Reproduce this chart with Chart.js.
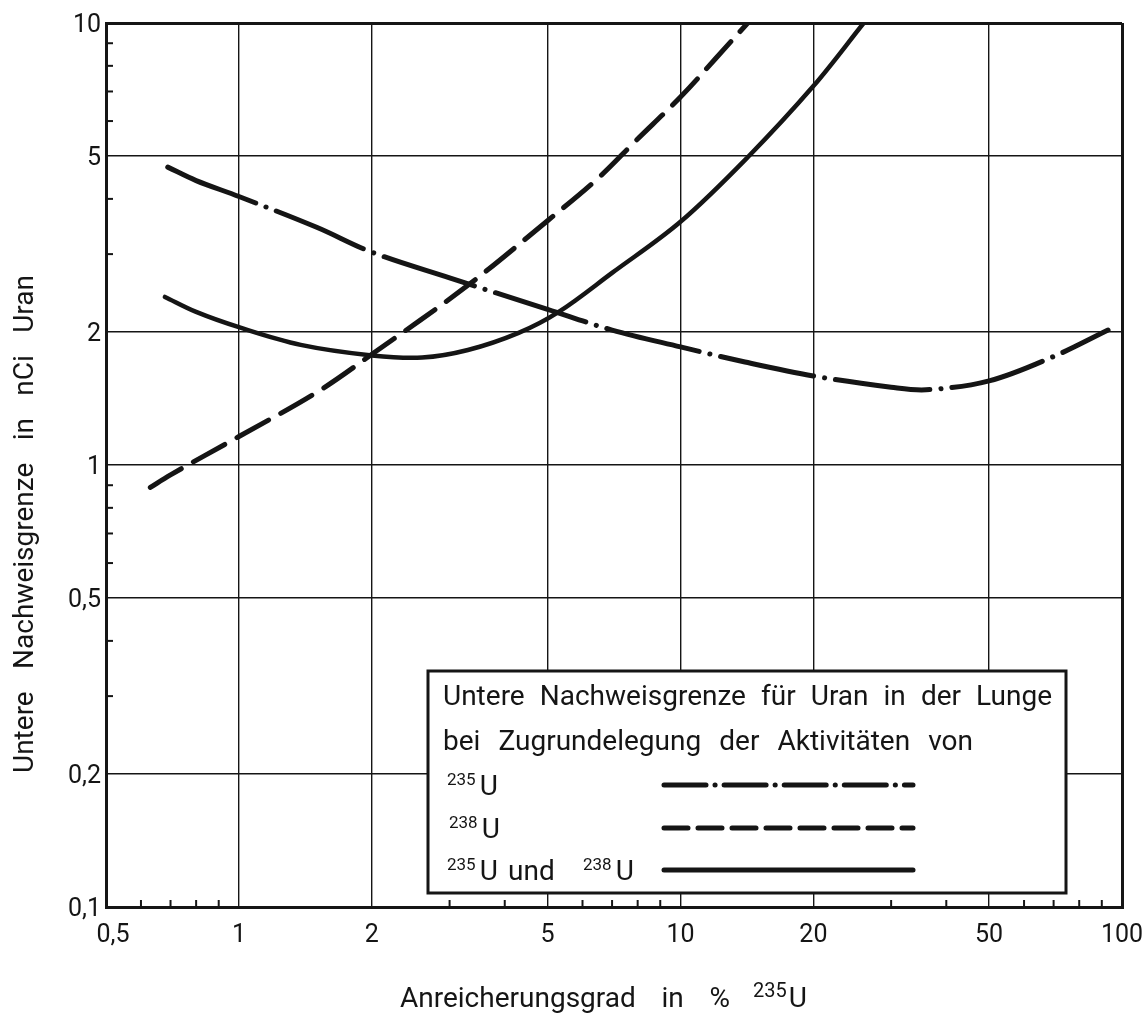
<!DOCTYPE html>
<html>
<head>
<meta charset="utf-8">
<script src="https://cdn.jsdelivr.net/npm/chart.js@4.4.1/dist/chart.umd.min.js"></script>
<style>
  html, body { margin: 0; padding: 0; background: #fff; }
  #wrap { width: 1148px; height: 1015px; position: relative; }
</style>
</head>
<body>
<div id="wrap"><canvas id="c" width="1148" height="1015"></canvas></div>
<script>
// ---- data ----
const u235X = [0.69, 0.8, 1, 1.5, 2, 3, 5, 7, 10, 14, 20, 30, 36, 50, 70, 93];
const u235Y = [4.72, 4.4, 4.05, 3.45, 3.03, 2.65, 2.25, 2.02, 1.85, 1.71, 1.59, 1.5, 1.48, 1.55, 1.76, 2.02];

const u238X = [0.63, 0.7, 1, 1.5, 2, 3.3, 5, 6.5, 7.9, 10, 12, 14.2];
const u238Y = [0.89, 0.95, 1.16, 1.46, 1.78, 2.55, 3.57, 4.45, 5.4, 6.8, 8.3, 10];

const bothX = [0.68, 0.8, 1, 1.38, 2, 2.6, 3.3, 4.3, 5.3, 7, 10, 14.2, 20, 26];
const bothY = [2.4, 2.22, 2.05, 1.87, 1.77, 1.75, 1.82, 1.99, 2.22, 2.72, 3.55, 4.97, 7.2, 10];

const xTickValues = [0.5, 1, 2, 5, 10, 20, 50, 100];
const xTickLabels = ['0,5', '1', '2', '5', '10', '20', '50', '100'];
const yTickValues = [0.1, 0.2, 0.5, 1, 2, 5, 10];
const yTickLabels = ['0,1', '0,2', '0,5', '1', '2', '5', '10'];
const xMinorTicks = [0.6, 0.7, 0.8, 0.9, 3, 4, 6, 7, 8, 9, 30, 40, 60, 70, 80, 90];
const yMinorTicks = [0.3, 0.4, 0.6, 0.7, 0.8, 0.9, 3, 4, 6, 7, 8, 9];

const xTitle = 'Anreicherungsgrad in %';
const xTitleSup = '235';
const yTitle = 'Untere Nachweisgrenze in nCi Uran';
const legendLine1 = 'Untere Nachweisgrenze für Uran in der Lunge';
const legendLine2 = 'bei Zugrundelegung der Aktivitäten von';

const FONT = "Roboto, 'DejaVu Sans', sans-serif";
const INK = '#151515';

function pts(xs, ys) { return xs.map((x, i) => ({ x: x, y: ys[i] })); }

// draw words spread over a target width
function spreadText(ctx, text, x, y, w, size) {
  ctx.save();
  ctx.font = size + 'px ' + FONT;
  ctx.textAlign = 'left';
  ctx.textBaseline = 'alphabetic';
  const words = text.split(' ');
  const widths = words.map(t => ctx.measureText(t).width);
  const sum = widths.reduce((a, b) => a + b, 0);
  const minGap = size * 0.35;
  let sx = 1;
  if (words.length > 1 && sum + (words.length - 1) * minGap > w) sx = w / (sum + (words.length - 1) * minGap);
  if (words.length === 1) sx = w / sum;
  const gap = words.length > 1 ? (w / sx - sum) / (words.length - 1) : 0;
  ctx.translate(x, y);
  ctx.scale(sx, 1);
  let cx = 0;
  words.forEach((t, i) => { ctx.fillText(t, cx, 0); cx += widths[i] + gap; });
  ctx.restore();
}

function supU(ctx, sup, x, yBase, supSize, uSize, uGap) {
  ctx.save();
  ctx.textAlign = 'left';
  ctx.textBaseline = 'alphabetic';
  ctx.font = supSize + 'px ' + FONT;
  ctx.fillText(sup, x, yBase - 10);
  const w = ctx.measureText(sup).width;
  ctx.font = uSize + 'px ' + FONT;
  ctx.fillText('U', x + w + uGap, yBase);
  const w2 = ctx.measureText('U').width;
  ctx.restore();
  return x + w + uGap + w2;
}

const decorPlugin = {
  id: 'decor',
  afterDraw(chart) {
    const ctx = chart.ctx;
    const xs = chart.scales.x, ys = chart.scales.y;
    const area = chart.chartArea;
    ctx.save();
    ctx.fillStyle = INK;
    ctx.strokeStyle = INK;

    // minor ticks (inward)
    ctx.lineWidth = 2;
    xMinorTicks.forEach(v => {
      const px = xs.getPixelForValue(v);
      ctx.beginPath(); ctx.moveTo(px, area.bottom); ctx.lineTo(px, area.bottom - 7); ctx.stroke();
    });
    yMinorTicks.forEach(v => {
      const py = ys.getPixelForValue(v);
      ctx.beginPath(); ctx.moveTo(area.left, py); ctx.lineTo(area.left + 7, py); ctx.stroke();
    });

    // tick labels
    ctx.font = '25px ' + FONT;
    ctx.textBaseline = 'alphabetic';
    ctx.textAlign = 'right';
    yTickValues.forEach((v, i) => {
      const py = ys.getPixelForValue(v);
      ctx.fillText(yTickLabels[i], area.left - 5, py + 9);
    });
    ctx.textAlign = 'center';
    xTickValues.forEach((v, i) => {
      const px = xs.getPixelForValue(v) + (i === 0 ? 7 : 0);
      ctx.fillText(xTickLabels[i], px, area.bottom + 35);
    });

    // axis titles
    spreadText(ctx, xTitle, 400, 1007, 330, 28);
    supU(ctx, xTitleSup, 753, 1007, 20, 28, 2);
    ctx.save();
    ctx.translate(33, 773);
    ctx.rotate(-Math.PI / 2);
    spreadText(ctx, yTitle, 0, 0, 498, 28);
    ctx.restore();

    // legend box
    ctx.fillStyle = '#fff';
    ctx.fillRect(428, 671, 638, 222);
    ctx.lineWidth = 3;
    ctx.strokeStyle = INK;
    ctx.strokeRect(428, 671, 638, 222);
    ctx.fillStyle = INK;
    spreadText(ctx, legendLine1, 443, 705, 609, 28);
    spreadText(ctx, legendLine2, 443, 750, 530, 28);
    supU(ctx, '235', 447, 795, 17, 28, 4);
    supU(ctx, '238', 449, 838, 17, 28, 4);
    supU(ctx, '235', 447, 880, 17, 28, 4);
    ctx.font = '28px ' + FONT;
    ctx.textAlign = 'left';
    ctx.fillText('und', 508, 880);
    supU(ctx, '238', 583, 880, 17, 28, 4);

    // legend lines
    const lines = [
      { y: 785, dash: [42, 9, 0.1, 9] },
      { y: 828, dash: [24, 10] },
      { y: 870, dash: [] }
    ];
    ctx.lineWidth = 5;
    ctx.lineCap = 'round';
    lines.forEach(l => {
      ctx.setLineDash(l.dash);
      ctx.beginPath(); ctx.moveTo(664, l.y); ctx.lineTo(913, l.y); ctx.stroke();
    });
    ctx.setLineDash([]);
    ctx.restore();
  }
};

const xEdge = v => (v === 0.5 || v === 100);
const yEdge = v => (v === 0.1 || v === 10);

new Chart(document.getElementById('c'), {
  type: 'line',
  data: {
    datasets: [
      { label: '235U', data: pts(u235X, u235Y), borderColor: INK, borderWidth: 5,
        borderDash: [95, 11, 0.1, 11], borderCapStyle: 'round', pointRadius: 0,
        tension: 0.35, fill: false },
      { label: '238U', data: pts(u238X, u238Y), borderColor: INK, borderWidth: 5,
        borderDash: [36, 14], borderCapStyle: 'round', pointRadius: 0,
        tension: 0.35, fill: false },
      { label: '235U und 238U', data: pts(bothX, bothY), borderColor: INK, borderWidth: 4.5,
        borderCapStyle: 'round', pointRadius: 0,
        tension: 0.35, fill: false }
    ]
  },
  options: {
    responsive: false,
    animation: false,
    devicePixelRatio: 1,
    layout: { padding: { left: 106, top: 23, right: 26, bottom: 108 } },
    plugins: { legend: { display: false }, tooltip: { enabled: false } },
    scales: {
      x: {
        type: 'logarithmic', min: 0.5, max: 100,
        afterBuildTicks: s => { s.ticks = xTickValues.map(v => ({ value: v })); },
        ticks: { display: false },
        grid: { color: INK, lineWidth: c => (c.tick && xEdge(c.tick.value)) ? 3 : 1.4, drawTicks: false },
        border: { display: true, color: INK, width: 3 }
      },
      y: {
        type: 'logarithmic', min: 0.1, max: 10,
        afterBuildTicks: s => { s.ticks = yTickValues.map(v => ({ value: v })); },
        ticks: { display: false },
        grid: { color: INK, lineWidth: c => (c.tick && yEdge(c.tick.value)) ? 3 : 1.4, drawTicks: false },
        border: { display: true, color: INK, width: 3 }
      }
    }
  },
  plugins: [decorPlugin]
});
</script>
</body>
</html>
